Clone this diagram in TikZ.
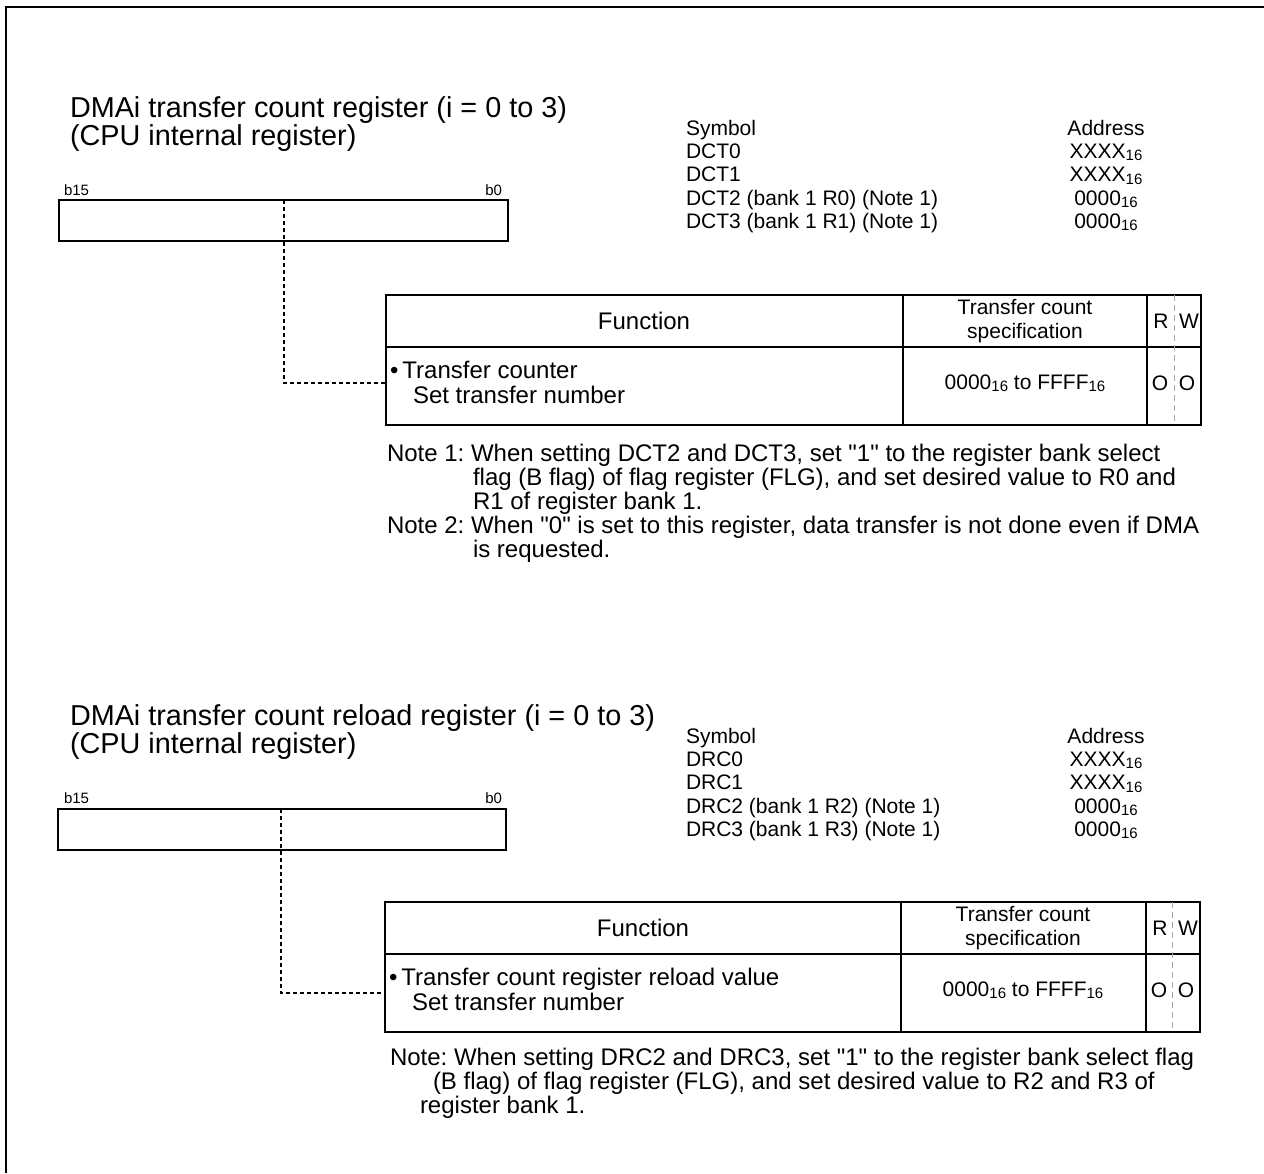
\documentclass[tikz,border=0pt]{standalone}
\usepackage{fontspec}
\setmainfont{Liberation Sans}[Ligatures=TeXOff]
\newcommand{\hexs}{\raisebox{-2.5pt}{\fontsize{15}{15}\selectfont 16}}
\frenchspacing
\begin{document}
\begin{tikzpicture}[x=1pt,y=-1pt,
  every node/.style={inner sep=0pt,outer sep=0pt},
  title/.style={anchor=base west,font=\fontsize{28.8}{33}\selectfont},
  bitlbl/.style={font=\fontsize{15}{18}\selectfont},
  sym/.style={anchor=base west,font=\fontsize{21}{23}\selectfont},
  addr/.style={anchor=base,font=\fontsize{21}{23}\selectfont},
  regbox/.style={draw,line width=1.3pt,anchor=north west},
  tabframe/.style={draw,line width=1.5pt,anchor=north west},
  tabline/.style={line width=1.5pt},
  hdr/.style={font=\fontsize{24}{26}\selectfont},
  spec/.style={font=\fontsize{21}{24}\selectfont,align=center},
  body/.style={anchor=base west,font=\fontsize{24}{26}\selectfont},
  rw/.style={font=\fontsize{21}{24}\selectfont},
  note/.style={anchor=base west,font=\fontsize{24}{26}\selectfont},
  conn/.style={line width=1.1pt,dash pattern=on 4pt off 3pt},
  rwsep/.style={gray!70,line width=1pt,dash pattern=on 6pt off 4pt}]
\useasboundingbox (0,0) rectangle (1264,1173);
\fill[white] (0,0) rectangle (1264,1173);
\draw[line width=2.5pt] (6,1173) -- (6,7) -- (1264,7);

% ================= Section 1 =================
\node[title] (t1a) at (70,117) {DMAi transfer count register (i = 0 to 3)};
\node[title] (t1b) at (70,145) {(CPU internal register)};
\node[bitlbl,anchor=base west] (b15a) at (64,195) {b15};
\node[bitlbl,anchor=base east] (b0a) at (502,195) {b0};
\node[regbox,minimum width=449pt,minimum height=41pt] (reg1) at (59,200) {};

\node[sym] (s1h) at (686,135) {Symbol};
\node[sym] (s1a) at (686,158) {DCT0};
\node[sym] (s1b) at (686,181.5) {DCT1};
\node[sym] (s1c) at (686,205) {DCT2 (bank 1 R0) (Note 1)};
\node[sym] (s1d) at (686,228) {DCT3 (bank 1 R1) (Note 1)};
\node[addr] (a1h) at (1106,135) {Address};
\node[addr] (a1a) at (1106,158) {XXXX\hexs};
\node[addr] (a1b) at (1106,181.5) {XXXX\hexs};
\node[addr] (a1c) at (1106,205) {0000\hexs};
\node[addr] (a1d) at (1106,228) {0000\hexs};

\node[tabframe,minimum width=815pt,minimum height=130pt] (tab1) at (386,295) {};
\draw[tabline] (386,347) -- (1201,347);
\draw[tabline] (903,295) -- (903,425);
\draw[tabline] (1147,295) -- (1147,425);
\draw[rwsep] (1174,295) -- (1174,425);
\node[hdr] (f1) at (644,321) {Function};
\node[spec] (c1) at (1025,321) {Transfer count\\specification};
\node[rw] (r1) at (1161,321) {R};
\node[rw] (w1) at (1189,321) {W};
\node[body] (e1a) at (390,378) {\textbullet\,Transfer counter};
\node[body] (e1b) at (413,403) {Set transfer number};
\node[spec] (v1) at (1025,383) {0000\hexs{} to FFFF\hexs};
\node[rw] (o1r) at (1160,383) {O};
\node[rw] (o1w) at (1187,383) {O};

\coordinate (tap1) at (284,200);
\coordinate (in1) at (386,383);
\draw[conn] (tap1) |- (in1);

\node[note] (n1a) at (387,461) {Note 1: When setting DCT2 and DCT3, set "1" to the register bank select};
\node[note] (n1b) at (473,485) {flag (B flag) of flag register (FLG), and set desired value to R0 and};
\node[note] (n1c) at (473,509) {R1 of register bank 1.};
\node[note] (n1d) at (387,533) {Note 2: When "0" is set to this register, data transfer is not done even if DMA};
\node[note] (n1e) at (473,557) {is requested.};

% ================= Section 2 =================
\node[title] (t2a) at (70,725) {DMAi transfer count reload register (i = 0 to 3)};
\node[title] (t2b) at (70,753) {(CPU internal register)};
\node[bitlbl,anchor=base west] (b15b) at (64,803) {b15};
\node[bitlbl,anchor=base east] (b0b) at (502,803) {b0};
\node[regbox,minimum width=448pt,minimum height=41pt] (reg2) at (58,809) {};

\node[sym] (s2h) at (686,743) {Symbol};
\node[sym] (s2a) at (686,766) {DRC0};
\node[sym] (s2b) at (686,789.5) {DRC1};
\node[sym] (s2c) at (686,813) {DRC2 (bank 1 R2) (Note 1)};
\node[sym] (s2d) at (686,836) {DRC3 (bank 1 R3) (Note 1)};
\node[addr] (a2h) at (1106,743) {Address};
\node[addr] (a2a) at (1106,766) {XXXX\hexs};
\node[addr] (a2b) at (1106,789.5) {XXXX\hexs};
\node[addr] (a2c) at (1106,813) {0000\hexs};
\node[addr] (a2d) at (1106,836) {0000\hexs};

\node[tabframe,minimum width=815pt,minimum height=130pt] (tab2) at (385,902) {};
\draw[tabline] (385,954) -- (1200,954);
\draw[tabline] (901,902) -- (901,1032);
\draw[tabline] (1146,902) -- (1146,1032);
\draw[rwsep] (1172,902) -- (1172,1032);
\node[hdr] (f2) at (643,928) {Function};
\node[spec] (c2) at (1023,928) {Transfer count\\specification};
\node[rw] (r2) at (1160,928) {R};
\node[rw] (w2) at (1188,928) {W};
\node[body] (e2a) at (389,985) {\textbullet\,Transfer count register reload value};
\node[body] (e2b) at (412,1010) {Set transfer number};
\node[spec] (v2) at (1023,990) {0000\hexs{} to FFFF\hexs};
\node[rw] (o2r) at (1159,990) {O};
\node[rw] (o2w) at (1186,990) {O};

\coordinate (tap2) at (281,809);
\coordinate (in2) at (385,993);
\draw[conn] (tap2) |- (in2);

\node[note] (n2a) at (390,1065) {Note: When setting DRC2 and DRC3, set "1" to the register bank select flag};
\node[note] (n2b) at (433,1089) {(B flag) of flag register (FLG), and set desired value to R2 and R3 of};
\node[note] (n2c) at (420,1113) {register bank 1.};
\end{tikzpicture}
\end{document}
